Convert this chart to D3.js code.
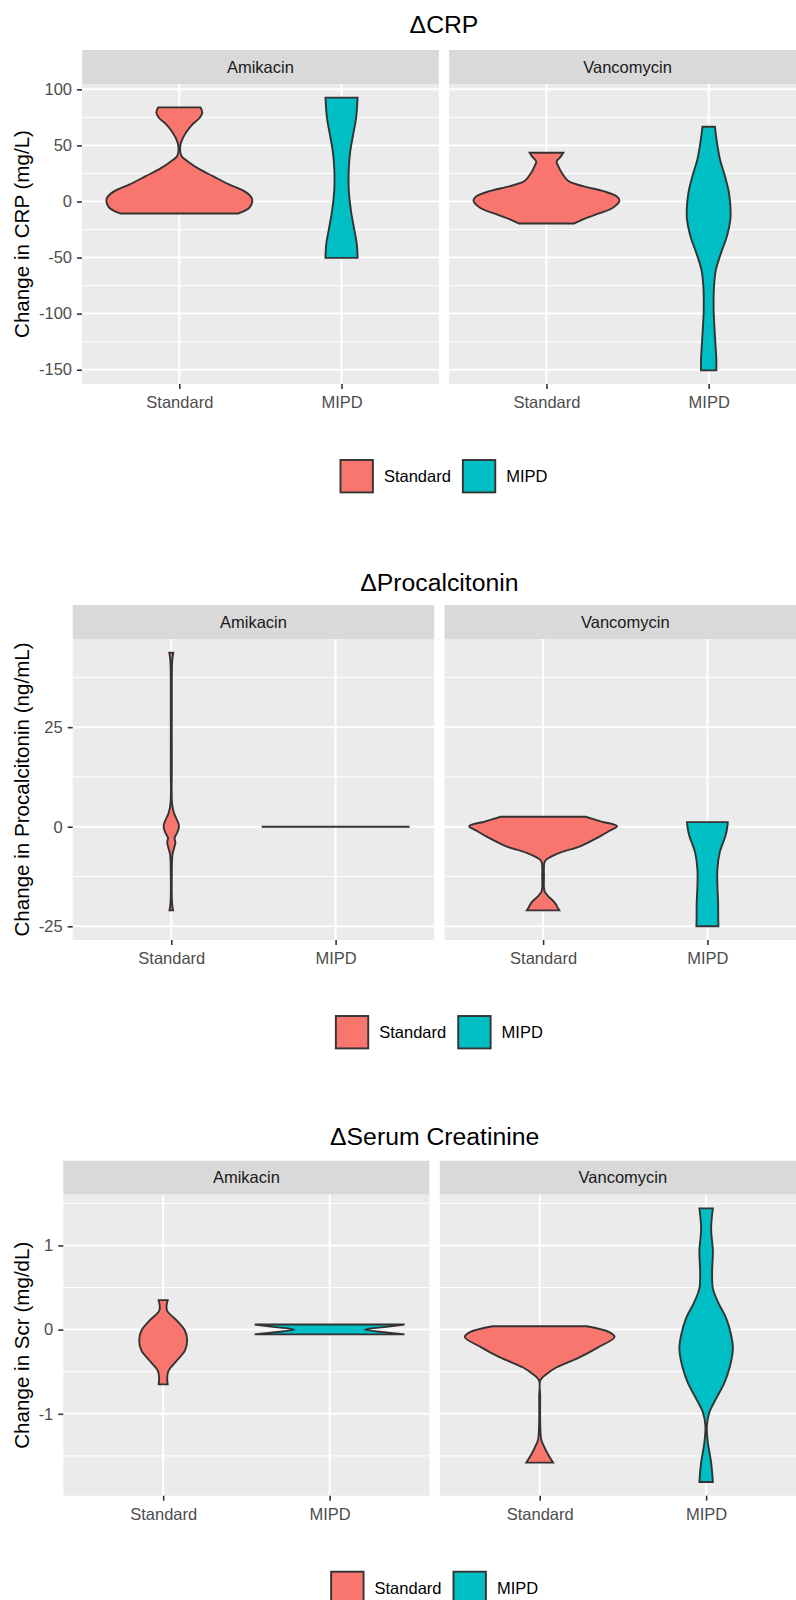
<!DOCTYPE html>
<html>
<head>
<meta charset="utf-8">
<script src="https://cdn.jsdelivr.net/npm/d3@7"></script>
<style>
  body { margin: 0; background: #fff; }
  svg { display: block; }
</style>
</head>
<body>
<script>
// ---- data ----
const groups = ['Standard', 'MIPD'];
const drugs = ['Amikacin', 'Vancomycin'];
const titles = ['ΔCRP', 'ΔProcalcitonin', 'ΔSerum Creatinine'];
const yTitles = ['Change in CRP (mg/L)', 'Change in Procalcitonin (ng/mL)', 'Change in Scr (mg/dL)'];

const crpTicks = [100, 50, 0, -50, -100, -150];
const pctTicks = [25, 0, -25];
const scrTicks = [1, 0, -1];

// violin outlines: [value, relative half width (1 = widest violin)]
const crpAmikacinStandard = [[83.9, .29], [79.2, .315], [74.7, .28], [68.8, .18], [61.3, .09], [53.8, .03], [47.1, .01],
  [40.5, .03], [34.6, .14], [28.6, .28], [22.6, .46], [15.2, .68], [9.2, .89], [3.3, .99], [0, 1], [-5.6, .96], [-10.7, .81]];
const crpAmikacinMIPD = [[92.6, .22], [74.7, .2], [59.8, .16], [44.9, .12], [30.1, .1], [19.6, .096], [9.2, .1],
  [-8.7, .13], [-23.5, .17], [-38.4, .21], [-50.3, .22]];
const crpVancomycinStandard = [[43.5, .23], [39.5, .19], [35.7, .14], [30.5, .17], [25.6, .21], [18.2, .3], [13.7, .5],
  [9.2, .78], [4.7, .96], [0.9, 1], [-5.6, .91], [-11.6, .68], [-16, .5], [-19.6, .38]];
const crpVancomycinMIPD = [[66.7, .085], [52.4, .114], [37.5, .155], [22.6, .223], [7.7, .278], [-7.1, .3], [-16.1, .297],
  [-31, .25], [-45.8, .17], [-60.7, .1], [-75.6, .073], [-96.4, .068], [-111.3, .078], [-126.2, .092], [-141.1, .105], [-150.6, .105]];

const pctAmikacinStandard = [[43.7, .027], [41.5, .012], [30, .007], [15, .007], [6, .01], [3.5, .035], [2, .07], [0.2, .104],
  [-1.5, .08], [-2.8, .045], [-4, .055], [-5.2, .04], [-7, .016], [-12, .007], [-18, .008], [-20, .015], [-21, .025]];
const pctAmikacinMIPD = [[0, 1], [0, 1]];
const pctVancomycinStandard = [[2.5, .575], [1.3, .79], [0.15, 1], [-1, .9], [-2.4, .77], [-4.9, .5], [-6.5, .23], [-8.2, .045],
  [-9, .018], [-12.4, .012], [-16.2, .02], [-17.4, .068], [-19.1, .16], [-20.4, .2], [-21, .22]];
const pctVancomycinMIPD = [[1.16, .275], [0, .27], [-2.3, .244], [-6.5, .166], [-10.7, .135], [-14.9, .135], [-19.1, .145],
  [-22.5, .146], [-25, .149]];

const scrAmikacinStandard = [[0.35, .06], [0.23, .05], [0.11, .18], [-0.01, .29], [-0.13, .32], [-0.25, .29], [-0.37, .18],
  [-0.49, .071], [-0.57, .054], [-0.65, .06]];
const scrAmikacinMIPD = [[0.06, 1], [0.03, .73], [0, .47], [-0.03, .73], [-0.056, 1]];
const scrVancomycinStandard = [[0.04, .625], [-0.03, .93], [-0.088, 1], [-0.21, .78], [-0.33, .53], [-0.45, .22], [-0.53, .09],
  [-0.6, .01], [-0.8, .007], [-1.1, .007], [-1.3, .02], [-1.36, .044], [-1.48, .11], [-1.58, .18]];
const scrVancomycinMIPD = [[1.44, .09], [1.2, .067], [0.93, .09], [0.69, .08], [0.49, .09], [0.33, .157], [0.13, .27],
  [-0.07, .335], [-0.23, .357], [-0.43, .32], [-0.63, .245], [-0.82, .134], [-0.98, .044], [-1.14, .01], [-1.34, .023],
  [-1.58, .067], [-1.81, .09]];

const plots = [
  { title: titles[0], yTitle: yTitles[0], ticks: crpTicks,
    violins: [[crpAmikacinStandard, crpAmikacinMIPD], [crpVancomycinStandard, crpVancomycinMIPD]] },
  { title: titles[1], yTitle: yTitles[1], ticks: pctTicks,
    violins: [[pctAmikacinStandard, pctAmikacinMIPD], [pctVancomycinStandard, pctVancomycinMIPD]] },
  { title: titles[2], yTitle: yTitles[2], ticks: scrTicks,
    violins: [[scrAmikacinStandard, scrAmikacinMIPD], [scrVancomycinStandard, scrVancomycinMIPD]] }
];

// ---- layout ----
const W = 796, H = 1600;
const plotRight = 806; // the figure runs a little past the right edge of the page
const panelGap = 10.3, stripH = 34, tickLen = 5, keySize = 32.4;
const layout = [
  { left: 82, titleY: 33, stripTop: 50, bottom: 384 },
  { left: 72.7, titleY: 591, stripTop: 605, bottom: 940 },
  { left: 63.3, titleY: 1145, stripTop: 1160.7, bottom: 1495.7 }
];
const small = 16.5;

const fill = d3.scaleOrdinal().domain(groups).range(['#F8766D', '#00BFC4']);

const svg = d3.select('body').append('svg')
  .attr('width', W)
  .attr('height', H)
  .attr('font-family', '"Liberation Sans", Arial, Helvetica, sans-serif');

function styleAxis(ax) {
  ax.select('.domain').remove();
  ax.attr('font-family', null).attr('font-size', small);
  ax.selectAll('.tick line').attr('stroke', '#333333').attr('stroke-width', 1.6);
  ax.selectAll('.tick text').attr('fill', '#4D4D4D');
}

plots.forEach((p, k) => {
  const L = layout[k];
  const pw = (plotRight - L.left - panelGap) / 2;
  const top = L.stripTop + stripH;

  // continuous scale expanded by 5% like ggplot
  const [lo, hi] = d3.extent(p.violins.flat(2), d => d[0]);
  const pad = (hi - lo) * 0.05;
  const y = d3.scaleLinear().domain([lo - pad, hi + pad]).range([L.bottom, top]);
  const step = p.ticks[0] - p.ticks[1];
  const minor = [...new Set(p.ticks.flatMap(t => [t - step / 2, t + step / 2]))]
    .filter(v => v > y.domain()[0] && v < y.domain()[1]);

  const g = svg.append('g');

  g.append('text')
    .attr('x', (L.left + plotRight) / 2)
    .attr('y', L.titleY)
    .attr('text-anchor', 'middle')
    .attr('font-size', 24.75)
    .text(p.title);

  drugs.forEach((drug, j) => {
    const x0 = L.left + j * (pw + panelGap);
    const x = d3.scaleLinear().domain([0.4, 2.6]).range([x0, x0 + pw]);
    const panel = g.append('g');

    panel.append('rect')
      .attr('x', x0).attr('y', L.stripTop)
      .attr('width', pw).attr('height', stripH)
      .attr('fill', '#D9D9D9');
    panel.append('text')
      .attr('x', x0 + pw / 2)
      .attr('y', L.stripTop + stripH / 2)
      .attr('dy', '0.35em')
      .attr('text-anchor', 'middle')
      .attr('font-size', small)
      .attr('fill', '#1A1A1A')
      .text(drug);

    panel.append('rect')
      .attr('x', x0).attr('y', top)
      .attr('width', pw).attr('height', L.bottom - top)
      .attr('fill', '#EBEBEB');

    panel.append('g').selectAll('line')
      .data(minor)
      .join('line')
      .attr('x1', x0).attr('x2', x0 + pw)
      .attr('y1', d => y(d)).attr('y2', d => y(d))
      .attr('stroke', '#fff').attr('stroke-width', 1);
    panel.append('g').selectAll('line')
      .data(p.ticks)
      .join('line')
      .attr('x1', x0).attr('x2', x0 + pw)
      .attr('y1', d => y(d)).attr('y2', d => y(d))
      .attr('stroke', '#fff').attr('stroke-width', 2);
    panel.append('g').selectAll('line')
      .data(groups.map((_, i) => i + 1))
      .join('line')
      .attr('x1', d => x(d)).attr('x2', d => x(d))
      .attr('y1', top).attr('y2', L.bottom)
      .attr('stroke', '#fff').attr('stroke-width', 2);

    groups.forEach((grp, i) => {
      const pos = i + 1;
      const area = d3.area()
        .curve(d3.curveCatmullRom.alpha(0.5))
        .y(d => y(d[0]))
        .x0(d => x(pos - d[1] * 0.45))
        .x1(d => x(pos + d[1] * 0.45));
      panel.append('path')
        .datum(p.violins[j][i])
        .attr('d', area)
        .attr('fill', fill(grp))
        .attr('stroke', '#333333')
        .attr('stroke-width', 1.9);
    });

    panel.append('g')
      .attr('transform', `translate(0,${L.bottom})`)
      .call(d3.axisBottom(x).tickValues([1, 2]).tickFormat(v => groups[v - 1]).tickSize(tickLen).tickPadding(7.4))
      .call(styleAxis);
  });

  g.append('g')
    .attr('transform', `translate(${L.left},0)`)
    .call(d3.axisLeft(y).tickValues(p.ticks).tickFormat(String).tickSize(tickLen).tickPadding(5))
    .call(styleAxis);

  g.append('text')
    .attr('transform', `translate(29,${(top + L.bottom) / 2}) rotate(-90)`)
    .attr('text-anchor', 'middle')
    .attr('font-size', 20.6)
    .text(p.yTitle);

  // legend below the panels
  const lg = g.append('g').attr('transform', `translate(0,${L.bottom + 76})`);
  const items = lg.selectAll('g').data(groups).join('g');
  items.append('rect')
    .attr('width', keySize).attr('height', keySize)
    .attr('fill', d => fill(d))
    .attr('stroke', '#333333').attr('stroke-width', 1.9);
  items.append('text')
    .attr('x', keySize + 11)
    .attr('y', keySize / 2)
    .attr('dy', '0.35em')
    .attr('font-size', small)
    .text(d => d);
  const widths = items.nodes().map(n => keySize + 11 + n.querySelector('text').getComputedTextLength());
  const total = d3.sum(widths) + 12 * (groups.length - 1);
  let xpos = (L.left + plotRight) / 2 - total / 2;
  items.attr('transform', (d, i) => {
    const t = `translate(${xpos},0)`;
    xpos += widths[i] + 12;
    return t;
  });
});
</script>
</body>
</html>
